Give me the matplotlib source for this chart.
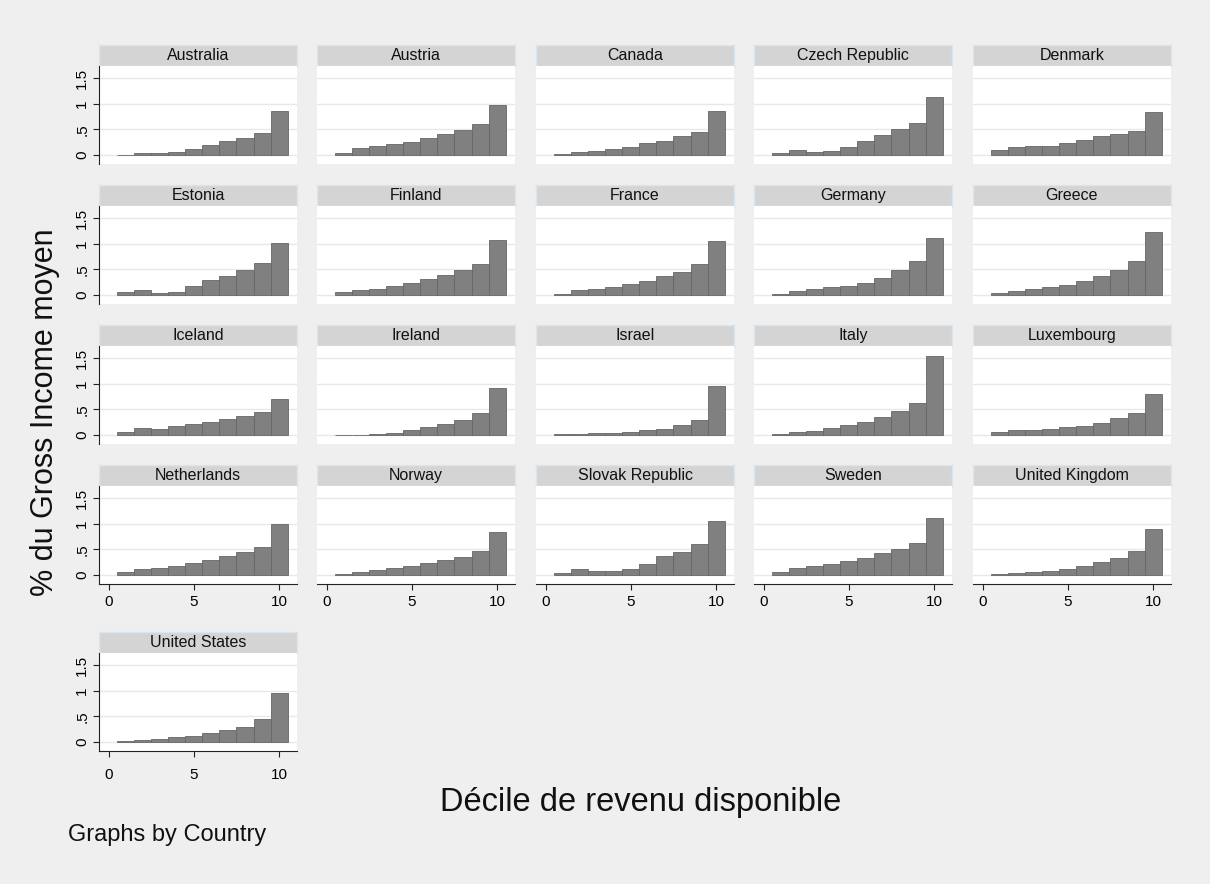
import matplotlib
matplotlib.use("Agg")
import matplotlib.pyplot as plt

plt.rcParams['font.family'] = ['Liberation Sans', 'DejaVu Sans']

deciles = [1, 2, 3, 4, 5, 6, 7, 8, 9, 10]

countries = ['Australia', 'Austria', 'Canada', 'Czech Republic', 'Denmark',
             'Estonia', 'Finland', 'France', 'Germany', 'Greece',
             'Iceland', 'Ireland', 'Israel', 'Italy', 'Luxembourg',
             'Netherlands', 'Norway', 'Slovak Republic', 'Sweden', 'United Kingdom',
             'United States']

australia = [0.005, 0.03, 0.03, 0.05, 0.11, 0.19, 0.27, 0.32, 0.43, 0.85]
austria = [0.04, 0.125, 0.17, 0.21, 0.25, 0.32, 0.40, 0.49, 0.61, 0.97]
canada = [0.01, 0.05, 0.08, 0.12, 0.16, 0.23, 0.28, 0.36, 0.45, 0.86]
czech = [0.03, 0.10, 0.05, 0.07, 0.15, 0.28, 0.38, 0.50, 0.62, 1.14]
denmark = [0.09, 0.15, 0.17, 0.18, 0.23, 0.29, 0.36, 0.40, 0.47, 0.84]
estonia = [0.05, 0.09, 0.04, 0.06, 0.17, 0.30, 0.37, 0.49, 0.63, 1.02]
finland = [0.05, 0.09, 0.12, 0.17, 0.24, 0.31, 0.39, 0.49, 0.60, 1.07]
france = [0.01, 0.09, 0.12, 0.16, 0.22, 0.28, 0.36, 0.45, 0.61, 1.06]
germany = [0.01, 0.08, 0.12, 0.15, 0.18, 0.24, 0.33, 0.48, 0.67, 1.12]
greece = [0.04, 0.07, 0.12, 0.15, 0.19, 0.28, 0.37, 0.49, 0.66, 1.24]
iceland = [0.05, 0.13, 0.12, 0.18, 0.22, 0.26, 0.31, 0.37, 0.45, 0.71]
ireland = [0.0, 0.005, 0.02, 0.04, 0.09, 0.15, 0.21, 0.30, 0.43, 0.92]
israel = [0.01, 0.02, 0.03, 0.04, 0.06, 0.09, 0.12, 0.19, 0.30, 0.95]
italy = [0.02, 0.05, 0.08, 0.13, 0.19, 0.26, 0.34, 0.46, 0.62, 1.55]
luxembourg = [0.05, 0.09, 0.10, 0.12, 0.15, 0.18, 0.24, 0.32, 0.43, 0.80]
netherlands = [0.06, 0.11, 0.14, 0.18, 0.23, 0.29, 0.37, 0.45, 0.55, 1.00]
norway = [0.02, 0.06, 0.10, 0.14, 0.18, 0.23, 0.29, 0.35, 0.47, 0.83]
slovakia = [0.04, 0.11, 0.07, 0.07, 0.11, 0.21, 0.36, 0.45, 0.60, 1.06]
sweden = [0.05, 0.14, 0.18, 0.22, 0.27, 0.33, 0.42, 0.50, 0.63, 1.11]
uk = [0.01, 0.03, 0.05, 0.08, 0.12, 0.18, 0.25, 0.33, 0.46, 0.89]
usa = [0.01, 0.03, 0.06, 0.09, 0.12, 0.17, 0.23, 0.30, 0.44, 0.96]

series = [australia, austria, canada, czech, denmark,
          estonia, finland, france, germany, greece,
          iceland, ireland, israel, italy, luxembourg,
          netherlands, norway, slovakia, sweden, uk,
          usa]

yticks = [0, 0.5, 1, 1.5]
ytick_labels = ['0', '.5', '1', '1.5']
xticks = [0, 5, 10]

W, H = 1210, 884
fig = plt.figure(figsize=(W / 100, H / 100), dpi=100)
fig.patch.set_facecolor('#efefef')

col_left = [99, 317, 536, 754, 973]
row_top = [45, 185, 325, 465, 632]
pw = 198
strip_h = 21
plot_h = 98


def px_axes(left, top, width, height):
    return fig.add_axes([left / W, 1 - (top + height) / H, width / W, height / H])


for i, (name, vals) in enumerate(zip(countries, series)):
    r, c = divmod(i, 5)
    left = col_left[c]
    top = row_top[r]

    # strip title
    sax = px_axes(left, top, pw, strip_h)
    sax.set_facecolor('#d4d4d4')
    sax.set_xticks([])
    sax.set_yticks([])
    for s in sax.spines.values():
        s.set_color('#dbe5ee')
        s.set_linewidth(1.0)
    sax.text(0.5, 0.5, name, ha='center', va='center', fontsize=11.5,
             color='#111111', transform=sax.transAxes)

    ax = px_axes(left, top + strip_h, pw, plot_h)
    ax.set_facecolor('white')
    ax.bar(deciles, vals, width=1, color='#808080', edgecolor='#666666',
           linewidth=0.6, zorder=3)
    ax.set_xlim(-0.56, 11.05)
    ax.set_ylim(-0.18, 1.74)
    ax.set_yticks(yticks)
    ax.grid(axis='y', color='#e8e8e8', linewidth=1.0, zorder=0)
    for s in ['top', 'right']:
        ax.spines[s].set_visible(False)

    first_col = (c == 0)
    bottom_row = (i >= 15)
    if first_col:
        ax.spines['left'].set_color('#222222')
        ax.spines['left'].set_linewidth(0.8)
        ax.set_yticklabels(ytick_labels, rotation=90, va='center', fontsize=11)
        ax.tick_params(axis='y', length=4, width=0.8, color='#222222', pad=3)
    else:
        ax.spines['left'].set_visible(False)
        ax.tick_params(axis='y', length=0, labelleft=False)

    if bottom_row:
        ax.spines['bottom'].set_color('#222222')
        ax.spines['bottom'].set_linewidth(0.8)
        ax.set_xticks(xticks)
        ax.set_xticklabels([str(t) for t in xticks], fontsize=11)
        ax.tick_params(axis='x', length=4, width=0.8, color='#222222',
                       pad=4 if r == 3 else 8)
    else:
        ax.spines['bottom'].set_visible(False)
        ax.set_xticks([])

fig.text(45 / W, 1 - 412 / H, '% du Gross Income moyen', rotation=90,
         ha='center', va='center', fontsize=22, color='#111111')
fig.text(641 / W, 1 - 803 / H, 'Décile de revenu disponible',
         ha='center', va='center', fontsize=23.5, color='#111111')
fig.text(68 / W, 1 - 835 / H, 'Graphs by Country',
         ha='left', va='center', fontsize=17, color='#111111')

fig.savefig('out.png', dpi=100, facecolor=fig.get_facecolor())
